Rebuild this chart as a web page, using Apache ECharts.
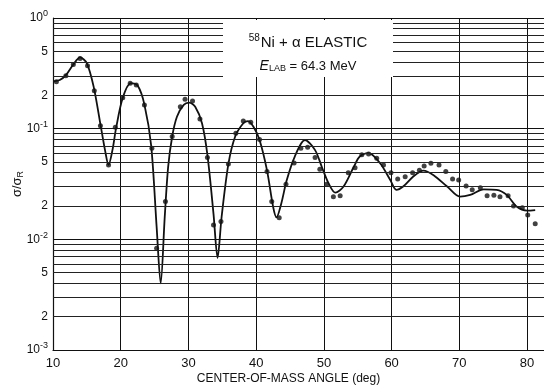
<!DOCTYPE html>
<html>
<head>
<meta charset="utf-8">
<script src="https://cdn.jsdelivr.net/npm/echarts@6/dist/echarts.min.js"></script>
<style>
  html, body { margin: 0; padding: 0; background: #fff; }
  #chart { width: 544px; height: 387px; }
</style>
</head>
<body>
<div id="chart"></div>
<script>
// measured points (deg, sigma/sigma_R)
const expAngle = [10.5, 11.9, 13.0, 14.0, 15.1, 16.1, 17.0, 18.2, 19.2, 20.3, 21.4, 22.3, 23.5, 24.6,
  25.3, 26.6, 27.6, 28.8, 29.5, 30.6, 31.7, 32.8, 33.7, 34.8, 35.9, 37.0, 38.1, 39.2, 40.5,
  41.6, 42.3, 43.4, 44.4, 45.6, 46.6, 47.6, 48.7, 49.4, 50.4, 51.4, 52.4, 53.6, 54.6, 55.6,
  56.6, 57.8, 58.8, 59.9, 60.9, 62.0, 63.1, 64.1, 64.8, 65.8, 67.0, 68.0, 69.0, 69.9, 71.0,
  71.9, 73.1, 74.1, 75.1, 76.0, 77.2, 78.0, 79.3, 80.1, 81.2]
const expValue = [0.266, 0.30, 0.38, 0.43, 0.37, 0.22, 0.106, 0.047, 0.103, 0.19, 0.257, 0.248, 0.164, 0.0665,
  0.0083, 0.022, 0.085, 0.158, 0.184, 0.178, 0.122, 0.055, 0.0135, 0.0145, 0.048, 0.091, 0.117, 0.114, 0.080,
  0.041, 0.022, 0.0157, 0.0315, 0.049, 0.0665, 0.068, 0.055, 0.043, 0.0315, 0.0243, 0.0248, 0.040, 0.0444, 0.058,
  0.059, 0.054, 0.047, 0.040, 0.035, 0.0368, 0.040, 0.042, 0.046, 0.0486, 0.047, 0.041, 0.035, 0.0344, 0.0304,
  0.028, 0.0293, 0.0248, 0.025, 0.0243, 0.0247, 0.020, 0.0193, 0.0166, 0.0138]

// calculated curve
const thAngle = [10.0, 11.0, 12.0, 13.0, 14.0, 15.0, 16.0, 17.0, 17.7, 18.2, 18.8, 19.3, 20.3, 21.5, 22.5, 23.5,
  24.5, 25.3, 25.9, 26.5, 27.0, 27.6, 28.3, 29.3, 30.1, 31.0, 32.0, 32.8, 33.7, 34.3, 34.9, 35.9,
  36.9, 38.1, 38.8, 39.6, 40.5, 41.6, 42.5, 43.0, 43.7, 44.5, 45.7, 47.2, 48.7, 49.7, 50.7, 51.7,
  52.9, 54.4, 55.3, 56.6, 58.3, 59.8, 60.7, 61.7, 63.2, 64.7, 66.2, 68.2, 70.1, 71.6, 73.6, 75.5,
  77.0, 78.5, 80.0, 81.2]
const thValue = [0.268, 0.275, 0.31, 0.38, 0.44, 0.39, 0.24, 0.11, 0.063, 0.047, 0.065, 0.10, 0.19, 0.258, 0.245, 0.165,
  0.07, 0.013, 0.004, 0.016, 0.045, 0.085, 0.128, 0.164, 0.172, 0.158, 0.112, 0.058, 0.017, 0.0068, 0.016, 0.048,
  0.085, 0.112, 0.117, 0.104, 0.079, 0.042, 0.0197, 0.0158, 0.021, 0.034, 0.056, 0.079, 0.064, 0.045, 0.032, 0.0264,
  0.030, 0.045, 0.056, 0.060, 0.0487, 0.0344, 0.028, 0.030, 0.037, 0.0418, 0.038, 0.030, 0.0243, 0.0252, 0.0283, 0.028,
  0.0252, 0.0197, 0.0182, 0.0184]

// minor grid lines inside each decade, and which ones get a label
const decades = [0.001, 0.01, 0.1]
const minorSteps = [2, 3, 4, 5, 6, 7, 8, 9]
const minorLabels = ['2', '5']

const xMin = 10
const xMax = 82.5
const font = 'Liberation Sans'

const gridLines = []
decades.forEach(d => {
  minorSteps.forEach(m => {
    const txt = String(m)
    const v = +(m * d).toPrecision(3)
    gridLines.push([
      { coord: [xMin, v], label: { show: minorLabels.includes(txt), formatter: txt } },
      { coord: [xMax, v] }
    ])
  })
})

const myChart = echarts.init(document.getElementById('chart'))
myChart.setOption({
  animation: false,
  backgroundColor: '#fff',
  grid: { left: 53, right: 0, top: 18, bottom: 37, containLabel: false, outerBoundsMode: 'none' },
  xAxis: {
    type: 'value',
    min: xMin,
    max: xMax,
    interval: 10,
    name: 'CENTER-OF-MASS ANGLE (deg)',
    nameLocation: 'middle',
    nameGap: 23,
    nameMoveOverlap: false,
    nameTextStyle: { color: '#111', fontFamily: font, fontSize: 12, padding: [0, 20, 0, 0] },
    axisLine: { show: true, lineStyle: { color: '#111', width: 1.2 } },
    axisTick: { show: false },
    axisLabel: {
      color: '#111', fontFamily: font, fontSize: 13, margin: 7,
      showMaxLabel: false,
      formatter: v => (v % 10 === 0 ? String(v) : '')
    },
    splitLine: { show: true, lineStyle: { color: '#111', width: 1 } }
  },
  yAxis: {
    type: 'log',
    logBase: 10,
    min: 0.001,
    max: 1,
    name: '{a|σ/σ}{s|R}',
    nameLocation: 'middle',
    nameGap: 28,
    nameMoveOverlap: false,
    nameRotate: 90,
    nameTextStyle: {
      rich: {
        a: { fontFamily: font, fontSize: 13, color: '#111' },
        s: { fontFamily: font, fontSize: 9, color: '#111', verticalAlign: 'bottom', padding: [6, 0, 0, 0] }
      }
    },
    axisLine: { show: true, lineStyle: { color: '#111', width: 1.2 } },
    axisTick: { show: false },
    axisLabel: {
      margin: 5,
      formatter: v => '{b|10}{e|' + Math.round(Math.log10(v)) + '}',
      rich: {
        b: { fontFamily: font, fontSize: 12, color: '#111' },
        e: { fontFamily: font, fontSize: 9, color: '#111', verticalAlign: 'top', padding: [0, 0, 8, 0] }
      }
    },
    splitLine: { show: true, lineStyle: { color: '#111', width: 1 } }
  },
  graphic: [
    {
      type: 'rect',
      z: 50,
      shape: { x: 223, y: 20, width: 170, height: 57 },
      style: { fill: '#fff' }
    },
    {
      type: 'text',
      z: 51,
      x: 308,
      y: 43,
      style: {
        text: '{s|58}{t|Ni + α ELASTIC}',
        align: 'center',
        verticalAlign: 'middle',
        rich: {
          s: { fontFamily: font, fontSize: 10, fill: '#111', verticalAlign: 'top', padding: [0, 1, 9, 0] },
          t: { fontFamily: font, fontSize: 15, fill: '#111' }
        }
      }
    },
    {
      type: 'text',
      z: 51,
      x: 308,
      y: 66,
      style: {
        text: '{e|E}{s|LAB}{t| = 64.3 MeV}',
        align: 'center',
        verticalAlign: 'middle',
        rich: {
          e: { fontFamily: font, fontSize: 14, fontStyle: 'italic', fill: '#111' },
          s: { fontFamily: font, fontSize: 9, fill: '#111', verticalAlign: 'bottom', padding: [6, 0, 0, 0] },
          t: { fontFamily: font, fontSize: 13, fill: '#111' }
        }
      }
    }
  ],
  series: [
    {
      name: 'theory',
      type: 'line',
      data: thAngle.map((a, i) => [a, thValue[i]]),
      smooth: 0.3,
      showSymbol: false,
      lineStyle: { color: '#111', width: 1.8 },
      markLine: {
        silent: true,
        symbol: 'none',
        animation: false,
        lineStyle: { type: 'solid', color: '#222', width: 1 },
        label: { position: 'start', distance: 5, color: '#111', fontFamily: font, fontSize: 12 },
        data: gridLines
      }
    },
    {
      name: 'data',
      type: 'scatter',
      data: expAngle.map((a, i) => [a, expValue[i]]),
      symbol: 'circle',
      symbolSize: 5,
      itemStyle: { color: '#111' }
    }
  ]
})
</script>
</body>
</html>
